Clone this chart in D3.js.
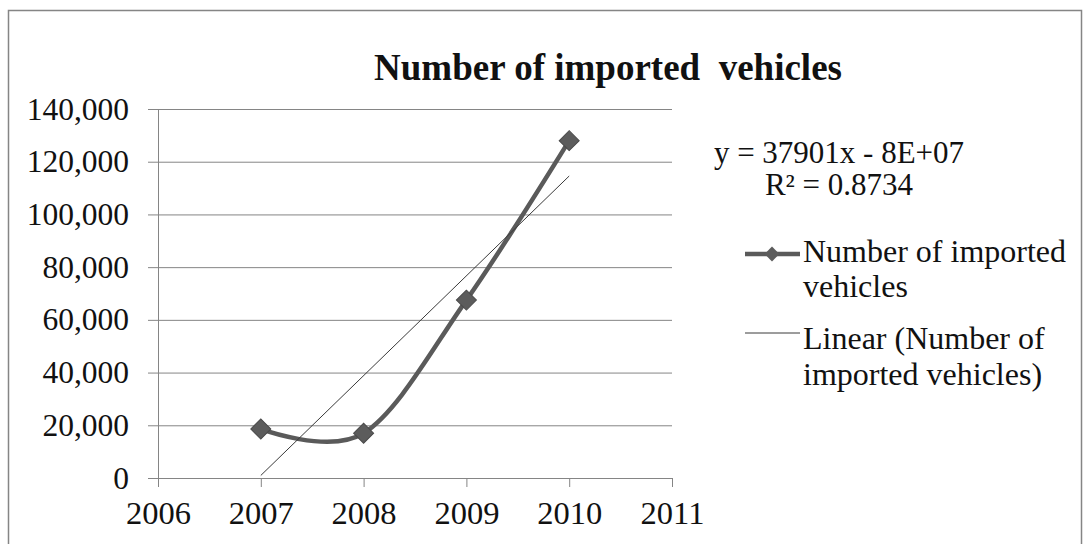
<!DOCTYPE html>
<html>
<head>
<meta charset="utf-8">
<script src="https://cdn.jsdelivr.net/npm/d3@7"></script>
<style>
  html, body { margin: 0; padding: 0; background: #fff; }
  svg { display: block; }
  text { font-family: "Liberation Serif", "Times New Roman", serif; fill: #111; }
</style>
</head>
<body>
<svg id="chart" width="1089" height="544"></svg>
<script>
// Imported vehicles per year
const years = [2007, 2008, 2009, 2010];
const vehicles = [18600, 17000, 67500, 128000];
const xTicks = [2006, 2007, 2008, 2009, 2010, 2011];
const yTicks = [0, 20000, 40000, 60000, 80000, 100000, 120000, 140000];
const titleText = "Number of imported\u00A0 vehicles";
const equationText = "y = 37901x - 8E+07";
const r2Text = "R\u00B2 = 0.8734";
const seriesName = ["Number of imported", "vehicles"];
const trendName = ["Linear (Number of", "imported vehicles)"];

const svg = d3.select("#chart");
const plot = { left: 158, right: 672, top: 109, bottom: 478 };

const x = d3.scaleLinear().domain([2006, 2011]).range([plot.left, plot.right]);
const y = d3.scaleLinear().domain([0, 140000]).range([plot.bottom, plot.top]);

// Outer chart frame
svg.append("rect")
  .attr("x", 8.5).attr("y", 10.5)
  .attr("width", 1073).attr("height", 560)
  .attr("fill", "#fff").attr("stroke", "#858585").attr("stroke-width", 1.5);

// Title
svg.append("text")
  .attr("x", 608).attr("y", 80)
  .attr("text-anchor", "middle")
  .style("font-size", "37px").style("font-weight", "bold")
  .text(titleText);

// Horizontal gridlines
svg.append("g")
  .attr("transform", `translate(${plot.left},0)`)
  .call(d3.axisLeft(y).tickValues(yTicks).tickSize(-(plot.right - plot.left)).tickFormat(""))
  .call(g => g.select(".domain").remove())
  .call(g => g.selectAll("line").attr("stroke", "#858585").attr("stroke-width", 1));

// Y axis with outer ticks and labels
svg.append("g")
  .attr("transform", `translate(${plot.left},0)`)
  .call(d3.axisLeft(y).tickValues(yTicks).tickSize(10).tickPadding(19)
        .tickFormat(d3.format(",")))
  .call(g => g.select(".domain").attr("stroke", "#858585"))
  .call(g => g.selectAll("line").attr("stroke", "#858585"))
  .call(g => g.selectAll("text")
        .style("font-family", "'Liberation Serif', 'Times New Roman', serif")
        .style("font-size", "31.5px").attr("fill", "#111"));

// X axis
svg.append("g")
  .attr("transform", `translate(0,${plot.bottom})`)
  .call(d3.axisBottom(x).tickValues(xTicks).tickSize(9).tickPadding(14)
        .tickFormat(d3.format("d")))
  .call(g => g.select(".domain").attr("stroke", "#858585"))
  .call(g => g.selectAll("line").attr("stroke", "#858585"))
  .call(g => g.selectAll("text")
        .style("font-family", "'Liberation Serif', 'Times New Roman', serif")
        .style("font-size", "32.5px").attr("fill", "#111"));

const pts = years.map((yr, i) => ({ x: yr, y: vehicles[i] }));

// Least-squares trendline through the yearly values
const mx = d3.mean(years), my = d3.mean(vehicles);
const slope = d3.sum(pts, p => (p.x - mx) * (p.y - my)) / d3.sum(pts, p => (p.x - mx) ** 2);
const intercept = my - slope * mx;
const trendPts = d3.extent(years).map(v => ({ x: v, y: slope * v + intercept }));

// Smoothed series line
svg.append("path")
  .datum(pts)
  .attr("fill", "none")
  .attr("stroke", "#5a5a5a")
  .attr("stroke-width", 4.5)
  .attr("stroke-linecap", "round")
  .attr("d", d3.line().x(d => x(d.x)).y(d => y(d.y)).curve(d3.curveCardinal.tension(0)));

// Trendline
svg.append("path")
  .datum(trendPts)
  .attr("fill", "none")
  .attr("stroke", "#3a3a3a")
  .attr("stroke-width", 1)
  .attr("d", d3.line().x(d => x(d.x)).y(d => y(d.y)));

// Diamond markers
const diamond = d3.symbol().type(d3.symbolSquare).size(200);
svg.append("g").selectAll("path")
  .data(pts)
  .join("path")
  .attr("d", diamond)
  .attr("transform", d => `translate(${x(d.x)},${y(d.y)}) rotate(45)`)
  .attr("fill", "#5c5c5c")
  .attr("stroke", "#4a4a4a")
  .attr("stroke-width", 1);

// Trendline equation and R²
svg.append("text")
  .attr("x", 839).attr("y", 163)
  .attr("text-anchor", "middle")
  .style("font-size", "31px")
  .text(equationText);
svg.append("text")
  .attr("x", 839).attr("y", 195)
  .attr("text-anchor", "middle")
  .style("font-size", "31px")
  .text(r2Text);

// Legend
const leg = svg.append("g");
leg.append("line")
  .attr("x1", 745).attr("x2", 800).attr("y1", 254).attr("y2", 254)
  .attr("stroke", "#5a5a5a").attr("stroke-width", 4.5);
leg.append("path")
  .attr("d", d3.symbol().type(d3.symbolSquare).size(110))
  .attr("transform", "translate(772,254) rotate(45)")
  .attr("fill", "#5c5c5c");
leg.append("text")
  .attr("x", 803).attr("y", 262)
  .style("font-size", "32px")
  .selectAll("tspan").data(seriesName).join("tspan")
  .attr("x", 803).attr("dy", (d, i) => i === 0 ? 0 : 35)
  .text(d => d);

leg.append("line")
  .attr("x1", 745).attr("x2", 800).attr("y1", 333).attr("y2", 333)
  .attr("stroke", "#3a3a3a").attr("stroke-width", 1);
leg.append("text")
  .attr("x", 803).attr("y", 349)
  .style("font-size", "32px")
  .selectAll("tspan").data(trendName).join("tspan")
  .attr("x", 803).attr("dy", (d, i) => i === 0 ? 0 : 36)
  .text(d => d);
</script>
</body>
</html>
